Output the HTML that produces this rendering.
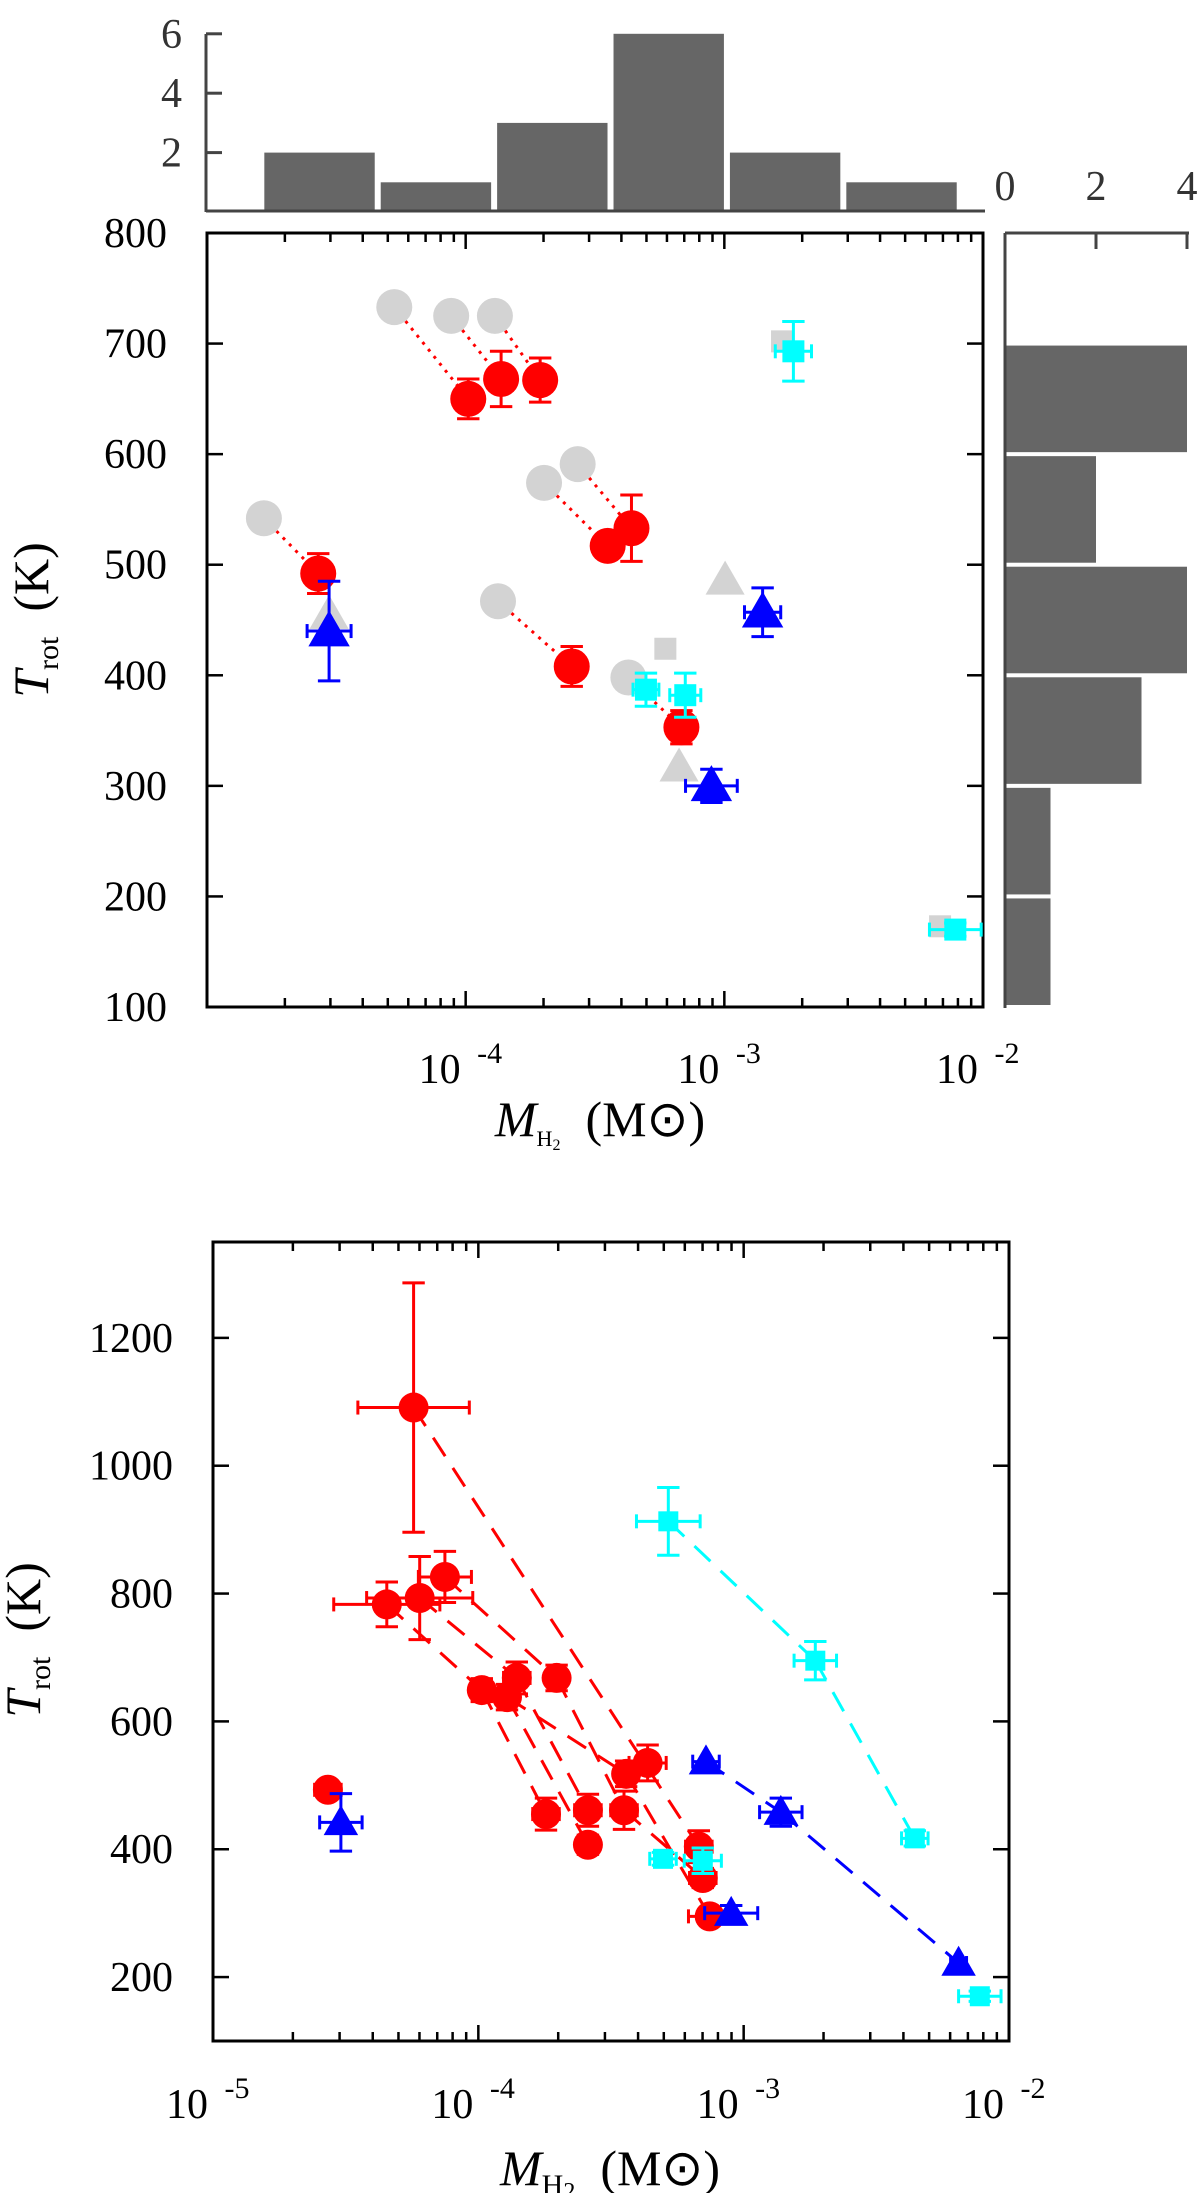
<!DOCTYPE html>
<html><head><meta charset="utf-8"><style>
html,body{margin:0;padding:0;background:#fff;}
svg{display:block;font-family:"Liberation Serif",serif;}
</style></head><body>
<svg id="fig" width="1200" height="2193" viewBox="0 0 1200 2193" xmlns="http://www.w3.org/2000/svg"></svg>
<script>
// ---------- DATA: top panel ----------
const topRedM = [-4.57,-3.99,-3.863,-3.712,-3.451,-3.359,-3.59,-3.166];
const topRedT = [492,650,668,667,517,533,408,353];
const topRedYerr = [18,18,25,20,10,30,18,15];
const topGrayCircM = [-4.78,-4.276,-4.056,-3.887,-3.697,-3.567,-3.875,-3.371];
const topGrayCircT = [542,733,725,725,574,591,467,398];
const topBlueM = [-4.528,-3.05,-2.852];
const topBlueT = [440,300,457];
const topBlueYerr = [45,15,22];
const topBlueXerr = [0.085,0.1,0.07];
const topGrayTriM = [-4.528,-3.175,-2.997];
const topGrayTriT = [455,317,486];
const topCyanM = [-2.733,-3.303,-3.151,-2.107];
const topCyanT = [693,387,382,170];
const topCyanYerr = [27,15,20,6];
const topCyanXerr = [0.07,0.05,0.06,0.1];
const topGraySqM = [-2.777,-3.228,-2.166];
const topGraySqT = [702,424,173];
const histTopCounts = [2,1,3,6,2,1];
const histTopEdges = [-4.79,-4.34,-3.89,-3.44,-2.99,-2.54,-2.09];
const histRightCounts = [1,1,3,4,2,4];
const histRightEdges = [100,200,300,400,500,600,700];
// ---------- DATA: bottom panel ----------
const botRedM = [-4.244,-4.345,-4.221,-4.126,-3.987,-3.892,-3.855,-3.705,-3.745,-3.587,-3.587,-3.451,-3.443,-3.362,-3.169,-3.154,-3.128,-4.567];
const botRedT = [1091,783,793,826,649,638,668,668,455,461,407,461,518,535,404,355,295,493];
const botRedYerr = [195,35,65,40,18,20,25,20,25,25,15,30,20,28,25,15,10,10];
const botRedXerr = [0.21,0.2,0.2,0.1,0.04,0.04,0.05,0.04,0.05,0.05,0.04,0.05,0.04,0.07,0.05,0.05,0.08,0.05];
const botRedLinks = [[0,14],[3,7],[7,11],[11,15],[2,6],[6,9],[1,4],[4,8],[5,12],[12,16],[5,10]];
const botBlueM = [-4.518,-3.142,-3.047,-2.86,-2.19];
const botBlueT = [442,537,300,458,222];
const botBlueYerr = [45,0,12,22,0];
const botBlueXerr = [0.08,0.05,0.1,0.08,0.03];
const botBlueLine = [1,3,4];
const botCyanM = [-3.284,-2.73,-2.355,-2.11,-3.304,-3.154];
const botCyanT = [913,695,417,170,385,382];
const botCyanYerr = [53,30,12,8,10,20];
const botCyanXerr = [0.12,0.08,0.05,0.08,0.05,0.07];
const botCyanLine = [0,1,2];

const NS="http://www.w3.org/2000/svg";
const svg=document.getElementById('fig');
function el(tag,attrs,parent){const e=document.createElementNS(NS,tag);for(const k in attrs)e.setAttribute(k,attrs[k]);(parent||svg).appendChild(e);return e;}
function grp(name){const g=el('g',{});return g;}

const T1={x0:207,x1:983,y0:1007,y1:233,lmin:-5,lmax:-2,tmin:100,tmax:800};
const T2={x0:213,x1:1009,y0:2041,y1:1242,lmin:-5,lmax:-2,tmin:100,tmax:1350};
const xs=(A,l)=>A.x0+(l-A.lmin)/(A.lmax-A.lmin)*(A.x1-A.x0);
const ys=(A,t)=>A.y0-(t-A.tmin)/(A.tmax-A.tmin)*(A.y0-A.y1);

function frame(A,name,ymajor,ylabels){
  const g=grp(name);
  el('rect',{x:A.x0,y:A.y1,width:A.x1-A.x0,height:A.y0-A.y1,fill:'none',stroke:'#000','stroke-width':3},g);
  for(let d=A.lmin;d<=A.lmax;d++){
    for(let k=1;k<=9;k++){
      const l=d+Math.log10(k); if(l>A.lmax+1e-9)break;
      const x=xs(A,l), L=k==1?16:9;
      if(k==1&&(d==A.lmin||d==A.lmax))continue;
      el('line',{x1:x,y1:A.y0,x2:x,y2:A.y0-L,stroke:'#000','stroke-width':2.5},g);
      el('line',{x1:x,y1:A.y1,x2:x,y2:A.y1+L,stroke:'#000','stroke-width':2.5},g);
    }
  }
  ymajor.forEach(t=>{const y=ys(A,t);
    el('line',{x1:A.x0,y1:y,x2:A.x0+16,y2:y,stroke:'#000','stroke-width':2.5},g);
    el('line',{x1:A.x1,y1:y,x2:A.x1-16,y2:y,stroke:'#000','stroke-width':2.5},g);});
  ylabels.forEach(t=>{const tx=el('text',{x:A.x0-40,y:ys(A,t)+14,'font-size':42,'text-anchor':'end'},g);tx.textContent=t;
    
    });
  return g;
}
function xlab(A,d,y,g){
  const x=xs(A,d);
  const t=el('text',{x:x-26,y:y,'font-size':42,'text-anchor':'middle'},g);t.textContent='10';
  
  
  const s=el('text',{x:x+24,y:y-20,'font-size':30,'text-anchor':'middle'},g);s.textContent=String(d);
}
function ytitle(x,y,g){
  const t=el('text',{x:0,y:0,'font-size':50,'text-anchor':'middle',transform:`translate(${x},${y}) rotate(-90)`},g);
  
  
  const a=el('tspan',{'font-style':'italic'},t);a.textContent='T';
  const b=el('tspan',{'font-size':30,dy:10},t);b.textContent='rot';
  const c=el('tspan',{dy:-10},t);c.textContent='\u2002(K)';
}
function xtitle(x,y,g,big){
  const t=el('text',{x:x,y:y,'font-size':50,'text-anchor':'middle'},g);
  
  
  const a=el('tspan',{'font-style':'italic'},t);a.textContent='M';
  const b=el('tspan',{'font-size':big?30:22,dy:10},t);b.textContent='H';
  const c=el('tspan',{'font-size':big?24:16,dy:4},t);c.textContent='2';
  const d=el('tspan',{dy:-14},t);d.textContent='\u2002(M\u2299)';
}
function errbar(A,l,t,xe,ye,col,w,g){
  const x=xs(A,l),y=ys(A,t),c=7;
  if(ye>0){const ya=ys(A,t+ye),yb=ys(A,t-ye);
    el('line',{x1:x,y1:ya,x2:x,y2:yb,stroke:col,'stroke-width':w},g);
    el('line',{x1:x-c*1.6,y1:ya,x2:x+c*1.6,y2:ya,stroke:col,'stroke-width':w},g);
    el('line',{x1:x-c*1.6,y1:yb,x2:x+c*1.6,y2:yb,stroke:col,'stroke-width':w},g);}
  if(xe>0){const xa=xs(A,l-xe),xb=xs(A,l+xe);
    el('line',{x1:xa,y1:y,x2:xb,y2:y,stroke:col,'stroke-width':w},g);
    el('line',{x1:xa,y1:y-c,x2:xa,y2:y+c,stroke:col,'stroke-width':w},g);
    el('line',{x1:xb,y1:y-c,x2:xb,y2:y+c,stroke:col,'stroke-width':w},g);}
}
function marker(type,x,y,s,col,g,name){
  let m;
  if(type=='c')m=el('circle',{cx:x,cy:y,r:s,fill:col},g);
  else if(type=='s')m=el('rect',{x:x-s,y:y-s,width:2*s,height:2*s,fill:col},g);
  else m=el('polygon',{points:`${x},${y-s*1.15} ${x-s*1.15},${y+s*0.85} ${x+s*1.15},${y+s*0.85}`,fill:col},g);
  
  
}
function line(A,l1,t1,l2,t2,col,dash,g){
  el('line',{x1:xs(A,l1),y1:ys(A,t1),x2:xs(A,l2),y2:ys(A,t2),stroke:col,'stroke-width':3,'stroke-dasharray':dash},g);
}

// ---------- TOP histogram ----------
(function(){
  const g=grp('top-histogram');
  const base=212, unit=29.7;
  for(let i=0;i<histTopCounts.length;i++){
    const xa=xs(T1,histTopEdges[i])+3, xb=xs(T1,histTopEdges[i+1])-3;
    const r=el('rect',{x:xa,y:base-histTopCounts[i]*unit,width:xb-xa,height:histTopCounts[i]*unit,fill:'#666'},g);
    
    
  }
  el('line',{x1:206,y1:211,x2:985,y2:211,stroke:'#444','stroke-width':3},g);
  el('line',{x1:206,y1:34,x2:206,y2:212,stroke:'#444','stroke-width':3},g);
  [2,4,6].forEach(v=>{const y=base-v*unit;
    el('line',{x1:206,y1:y,x2:222,y2:y,stroke:'#444','stroke-width':3},g);
    const t=el('text',{x:182,y:y+14,'font-size':42,'text-anchor':'end',fill:'#333'},g);t.textContent=v;});
})();
// ---------- RIGHT histogram ----------
(function(){
  const g=grp('right-histogram');
  const x0=1005,unit=45.5;
  for(let i=0;i<histRightCounts.length;i++){
    const ya=ys(T1,histRightEdges[i+1])+2, yb=ys(T1,histRightEdges[i])-2;
    const r=el('rect',{x:x0,y:ya,width:histRightCounts[i]*unit,height:yb-ya,fill:'#666'},g);
    
    
  }
  el('line',{x1:x0,y1:233,x2:x0,y2:1008,stroke:'#444','stroke-width':3},g);
  el('line',{x1:x0,y1:233,x2:1189,y2:233,stroke:'#444','stroke-width':3},g);
  [0,2,4].forEach(v=>{const x=x0+v*unit;
    el('line',{x1:x,y1:233,x2:x,y2:249,stroke:'#444','stroke-width':3},g);
    const t=el('text',{x:x,y:200,'font-size':42,'text-anchor':'middle',fill:'#333'},g);t.textContent=v;});
})();

// ---------- TOP scatter ----------
(function(){
  const g=frame(T1,'top-scatter-axes',[200,300,400,500,600,700],[100,200,300,400,500,600,700,800]);
  [-4,-3,-2].forEach(d=>xlab(T1,d,1083,g));
  ytitle(48,620,g); xtitle(600,1136,g,false);
  const p=grp('top-scatter-points');
  for(let i=0;i<topRedM.length;i++) line(T1,topGrayCircM[i],topGrayCircT[i],topRedM[i],topRedT[i],'#f00','3 6',p);
  for(let i=0;i<topGrayCircM.length;i++) marker('c',xs(T1,topGrayCircM[i]),ys(T1,topGrayCircT[i]),18,'#d3d3d3',p,'gray-circle');
  for(let i=0;i<topGrayTriM.length;i++) marker('t',xs(T1,topGrayTriM[i]),ys(T1,topGrayTriT[i]),17,'#d3d3d3',p,'gray-triangle');
  for(let i=0;i<topGraySqM.length;i++) marker('s',xs(T1,topGraySqM[i]),ys(T1,topGraySqT[i]),11,'#d3d3d3',p,'gray-square');
  for(let i=0;i<topRedM.length;i++){errbar(T1,topRedM[i],topRedT[i],0.03,topRedYerr[i],'#f00',3,p);marker('c',xs(T1,topRedM[i]),ys(T1,topRedT[i]),18,'#f00',p,'red-circle');}
  for(let i=0;i<topBlueM.length;i++){errbar(T1,topBlueM[i],topBlueT[i],topBlueXerr[i],topBlueYerr[i],'#00f',3,p);marker('t',xs(T1,topBlueM[i]),ys(T1,topBlueT[i]),18,'#00f',p,'blue-triangle');}
  for(let i=0;i<topCyanM.length;i++){errbar(T1,topCyanM[i],topCyanT[i],topCyanXerr[i],topCyanYerr[i],'#0ff',3,p);marker('s',xs(T1,topCyanM[i]),ys(T1,topCyanT[i]),11,'#0ff',p,'cyan-square');}
})();

// ---------- BOTTOM scatter ----------
(function(){
  const g=frame(T2,'bottom-scatter-axes',[200,400,600,800,1000,1200],[200,400,600,800,1000,1200]);
  [-5,-4,-3,-2].forEach(d=>xlab(T2,d,2118,g));
  ytitle(40,1640,g); xtitle(610,2185,g,true);
  const p=grp('bottom-scatter-points');
  botRedLinks.forEach(([a,b])=>line(T2,botRedM[a],botRedT[a],botRedM[b],botRedT[b],'#f00','22 14',p));
  for(let i=1;i<botBlueLine.length;i++){const a=botBlueLine[i-1],b=botBlueLine[i];line(T2,botBlueM[a],botBlueT[a],botBlueM[b],botBlueT[b],'#00f','22 14',p);}
  for(let i=1;i<botCyanLine.length;i++){const a=botCyanLine[i-1],b=botCyanLine[i];line(T2,botCyanM[a],botCyanT[a],botCyanM[b],botCyanT[b],'#0ff','22 14',p);}
  for(let i=0;i<botRedM.length;i++){errbar(T2,botRedM[i],botRedT[i],botRedXerr[i],botRedYerr[i],'#f00',3,p);marker('c',xs(T2,botRedM[i]),ys(T2,botRedT[i]),15,'#f00',p,'red-circle');}
  for(let i=0;i<botBlueM.length;i++){errbar(T2,botBlueM[i],botBlueT[i],botBlueXerr[i],botBlueYerr[i],'#00f',3,p);marker('t',xs(T2,botBlueM[i]),ys(T2,botBlueT[i]),15,'#00f',p,'blue-triangle');}
  for(let i=0;i<botCyanM.length;i++){errbar(T2,botCyanM[i],botCyanT[i],botCyanXerr[i],botCyanYerr[i],'#0ff',3,p);marker('s',xs(T2,botCyanM[i]),ys(T2,botCyanT[i]),10,'#0ff',p,'cyan-square');}
})();
</script>
</body></html>
